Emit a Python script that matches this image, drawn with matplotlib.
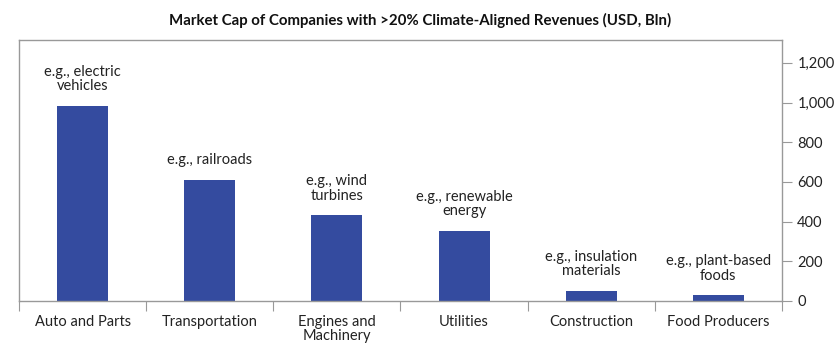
import matplotlib.pyplot as plt
import numpy as np
from matplotlib.ticker import FuncFormatter

categories = ["Auto and Parts", "Transportation", "Engines and\nMachinery",
              "Utilities", "Construction", "Food Producers"]
values = [983, 610, 432, 353, 52, 30]
examples = ["e.g., electric\nvehicles", "e.g., railroads", "e.g., wind\nturbines",
            "e.g., renewable\nenergy", "e.g., insulation\nmaterials", "e.g., plant-based\nfoods"]
yticks = [0, 200, 400, 600, 800, 1000, 1200]

plt.rcParams["font.family"] = ["Lato", "DejaVu Sans"]

fig = plt.figure(figsize=(8.4, 3.56), dpi=100)
ax = fig.add_axes([19 / 840, 1 - 301 / 356, (782 - 19) / 840, (301 - 40) / 356])

x = np.arange(len(categories))
ax.bar(x, values, width=0.4, color="#344b9f", zorder=2)

for xi, v, text in zip(x, values, examples):
    ax.annotate(text, (xi, v), xytext=(0, 9), textcoords="offset points",
                ha="center", va="bottom", fontsize=10.5, color="#222222",
                linespacing=1.05)

ax.set_xlim(-0.5, len(categories) - 0.5)
ax.set_ylim(0, 1315)

ax.set_xticks(np.arange(-0.5, len(categories)), minor=False)
ax.set_xticklabels([])
ax.set_xticks(x, minor=True)
ax.set_xticklabels(categories, minor=True, fontsize=10.5, color="#222222",
                   linespacing=1.0)
ax.tick_params(axis="x", which="major", length=7, color="#999999", direction="out")
ax.tick_params(axis="x", which="minor", length=0, pad=10)

ax.yaxis.tick_right()
ax.set_yticks(yticks)
ax.yaxis.set_major_formatter(FuncFormatter(lambda v, p: f"{int(v):,}"))
ax.tick_params(axis="y", length=7, color="#999999", labelsize=10.5,
               labelcolor="#222222", pad=4)

for side in ["left", "right", "top", "bottom"]:
    ax.spines[side].set_color("#999999")
    ax.spines[side].set_linewidth(1.0)

fig.text(0.5, 1 - 20 / 356, "Market Cap of Companies with >20% Climate-Aligned Revenues (USD, Bln)",
         ha="center", va="center", fontsize=10.8, fontweight="bold", color="#111111")

fig.savefig("out.png", dpi=100)
